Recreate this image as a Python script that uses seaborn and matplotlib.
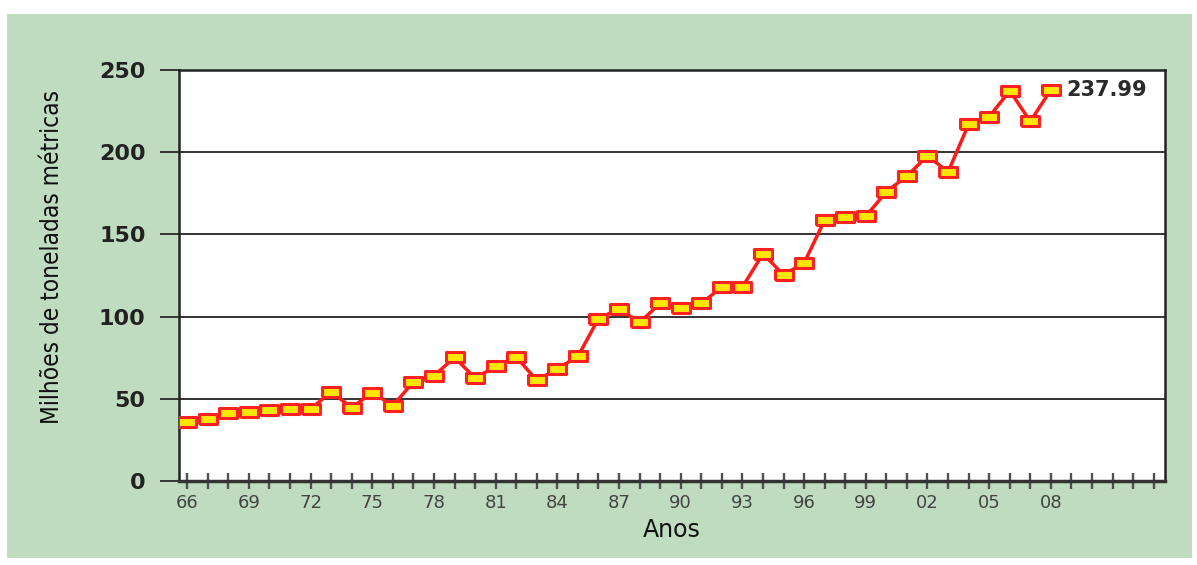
import numpy as np
import pandas as pd
import seaborn as sns
import matplotlib as mpl
import matplotlib.pyplot as plt
from matplotlib.patches import Rectangle

# data (millions of metric tonnes)
years = [1966, 1967, 1968, 1969, 1970, 1971, 1972, 1973, 1974, 1975,
         1976, 1977, 1978, 1979, 1980, 1981, 1982, 1983, 1984, 1985,
         1986, 1987, 1988, 1989, 1990, 1991, 1992, 1993, 1994, 1995,
         1996, 1997, 1998, 1999, 2000, 2001, 2002, 2003, 2004, 2005,
         2006, 2007, 2008]
values = [35.8, 37.6, 41.3, 41.9, 42.9, 43.9, 43.9, 54.1, 44.7, 53.8,
          45.9, 60.2, 64.0, 75.2, 62.6, 69.7, 75.4, 61.2, 68.3, 75.8,
          98.8, 104.7, 96.5, 108.0, 105.0, 108.0, 118.0, 118.0, 138.2, 125.4,
          132.7, 158.7, 160.8, 161.0, 176.0, 185.5, 197.8, 188.0, 217.0, 221.5,
          237.4, 218.7, 237.99]
label_years = [1966, 1969, 1972, 1975, 1978, 1981, 1984, 1987, 1990, 1993,
               1996, 1999, 2002, 2005, 2008]
label_text = ["66", "69", "72", "75", "78", "81", "84", "87", "90", "93",
              "96", "99", "02", "05", "08"]
minor_years = [1966 + i for i in range(48)]
yticks = [0, 50, 100, 150, 200, 250]
last_label = "237.99"

df = pd.DataFrame({'ano': years, 'valor': values})

sns.set_style('white')
mpl.rcParams['font.family'] = ['DejaVu Sans']

fig = plt.figure(figsize=(11.97, 5.65), dpi=100, facecolor='white')
fig.patches.append(Rectangle((7/1197, 7/565), 1185/1197, 544/565,
                             transform=fig.transFigure, facecolor='#c0dcc0',
                             edgecolor='none', zorder=-10))
ax = fig.add_axes([179/1197, 84/565, 986/1197, 411/565])
ax.set_facecolor('white')

rect = [(-1, -0.5), (1, -0.5), (1, 0.5), (-1, 0.5), (-1, -0.5)]
sns.lineplot(data=df, x='ano', y='valor', ax=ax, color='#ff1a1a', lw=2.5,
             marker=rect, markersize=13, markerfacecolor='#ffe600',
             markeredgecolor='#ff2020', markeredgewidth=2.2, zorder=5)

ax.annotate(last_label, xy=(years[-1], values[-1]), xytext=(11, 0),
            textcoords='offset points', ha='left', va='center',
            fontsize=15, fontweight='bold', color='#2a2a2a')

ax.set_xlim(1965.6, 2013.55)
ax.set_ylim(0, 250)
ax.set_yticks(yticks)
ax.set_yticklabels([str(v) for v in yticks], fontsize=16, fontweight='bold', color='#222222')
ax.set_xticks(label_years)
ax.set_xticklabels(label_text, fontsize=13, color='#444444')
ax.set_xticks(minor_years, minor=True)

for v in yticks[1:-1]:
    ax.axhline(v, color='#333333', lw=1.4, zorder=1)

for s in ax.spines.values():
    s.set_visible(True)
    s.set_color('#222222')
    s.set_linewidth(1.8)
ax.spines['bottom'].set_linewidth(2.5)
ax.spines['bottom'].set_color('#333333')

ax.tick_params(axis='y', direction='out', length=14, width=1.4, color='#333333', pad=10, left=True)
ax.tick_params(axis='x', which='both', direction='inout', length=11, width=1.7,
               color='#505050', pad=4, bottom=True)

ax.set_xlabel('Anos', fontsize=17, color='#111111', labelpad=4)
ax.set_ylabel('Milhões de toneladas métricas', fontsize=17.5, fontstretch='condensed',
              color='#111111')
ax.yaxis.set_label_coords(-0.117, 0.545)

plt.savefig('out.png', dpi=100, facecolor='white')
plt.close()
